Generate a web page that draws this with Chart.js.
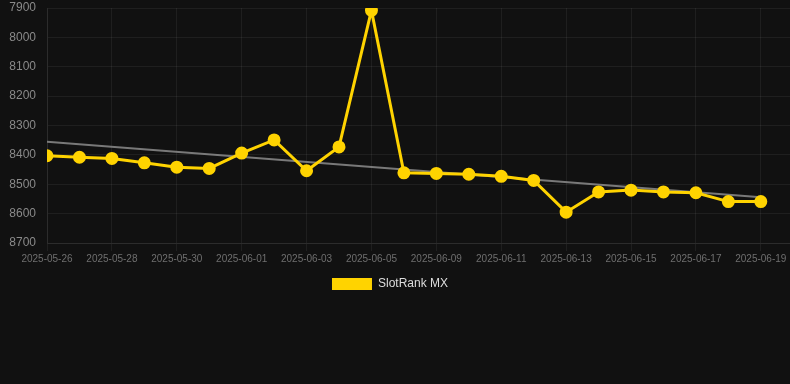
<!DOCTYPE html>
<html>
<head>
<meta charset="utf-8">
<script src="https://cdn.jsdelivr.net/npm/chart.js@4.4.1/dist/chart.umd.min.js"></script>
<style>
  html, body { margin: 0; padding: 0; background: #111111; overflow: hidden; }
  #wrap { position: relative; width: 798px; height: 300px; }
</style>
</head>
<body>
<div id="wrap"><canvas id="c"></canvas></div>
<script>
const dates = [
  "2025-05-26","2025-05-27","2025-05-28","2025-05-29","2025-05-30","2025-05-31",
  "2025-06-01","2025-06-02","2025-06-03","2025-06-04","2025-06-05","2025-06-08",
  "2025-06-09","2025-06-10","2025-06-11","2025-06-12","2025-06-13","2025-06-14",
  "2025-06-15","2025-06-16","2025-06-17","2025-06-18","2025-06-19"
];
const rankValues = [
  8403, 8408, 8412, 8427, 8442, 8446,
  8394, 8349, 8454, 8373, 7908, 8461,
  8463, 8466, 8473, 8487, 8595, 8526,
  8520, 8526, 8529, 8559, 8559
];
const trendStart = 8355;
const trendEnd = 8544;
const yTicks = [7900, 8000, 8100, 8200, 8300, 8400, 8500, 8600, 8700];

const seriesPoints = rankValues.map((v, i) => ({ x: i, y: v }));
const trendPoints = [{ x: 0, y: trendStart }, { x: dates.length - 1, y: trendEnd }];

Chart.defaults.font.family = "Arial, 'Liberation Sans', Helvetica, sans-serif";

const legendShift = {
  id: 'legendShift',
  beforeDraw(chart) {
    if (chart.legend && !chart.legend._shifted) {
      chart.legend.left -= 9;
      chart.legend.right -= 9;
      chart.legend._shifted = true;
    }
  },
  afterUpdate(chart) { if (chart.legend) chart.legend._shifted = false; }
};

new Chart(document.getElementById('c'), {
  type: 'line',
  data: {
    datasets: [
      {
        label: 'SlotRank MX',
        data: seriesPoints,
        borderColor: '#FFD300',
        backgroundColor: '#FFD300',
        borderWidth: 3,
        pointRadius: 5,
        pointHoverRadius: 5,
        pointBackgroundColor: '#FFD300',
        pointBorderColor: '#FFD300',
        tension: 0,
        order: 1
      },
      {
        label: 'trend',
        data: trendPoints,
        borderColor: 'rgba(140,140,140,0.85)',
        backgroundColor: 'rgba(140,140,140,0.85)',
        borderWidth: 2,
        pointRadius: 0,
        pointHoverRadius: 0,
        tension: 0,
        order: 2
      }
    ]
  },
  plugins: [legendShift],
  options: {
    responsive: true,
    maintainAspectRatio: false,
    animation: false,
    layout: { padding: 0 },
    plugins: {
      legend: {
        position: 'bottom',
        labels: {
          color: '#dddddd',
          font: { size: 12 },
          boxWidth: 40,
          boxHeight: 12,
          padding: 10,
          filter: (item) => item.text !== 'trend',
          generateLabels: (chart) => Chart.defaults.plugins.legend.labels.generateLabels(chart).map(l => Object.assign(l, { lineWidth: 0 }))
        }
      },
      tooltip: { enabled: false }
    },
    scales: {
      x: {
        type: 'linear',
        min: 0,
        max: 22.9,
        grid: { color: 'rgba(255,255,255,0.06)', tickLength: 8 },
        border: { color: 'rgba(255,255,255,0.06)' },
        afterFit: (s) => { s.paddingRight = 0; s.paddingLeft = 0; },
        ticks: {
          stepSize: 2,
          includeBounds: false,
          color: '#6f6f6f',
          font: { size: 10 },
          maxRotation: 0,
          autoSkip: false,
          padding: 2.5,
          callback: (v) => dates[v] !== undefined && Number.isInteger(v) ? dates[v] : ''
        }
      },
      y: {
        reverse: true,
        min: yTicks[0],
        max: yTicks[yTicks.length - 1],
        grid: { color: 'rgba(255,255,255,0.06)', drawTicks: false },
        border: { color: 'rgba(255,255,255,0.06)' },
        afterBuildTicks: (axis) => { axis.ticks = yTicks.map(v => ({ value: v })); },
        afterFit: (s) => { s.width = 47; s.paddingTop = 6; },
        ticks: {
          color: '#8a8a8a',
          font: { size: 12 },
          padding: 11,
          callback: (v) => String(v)
        }
      }
    }
  }
});
</script>
</body>
</html>
